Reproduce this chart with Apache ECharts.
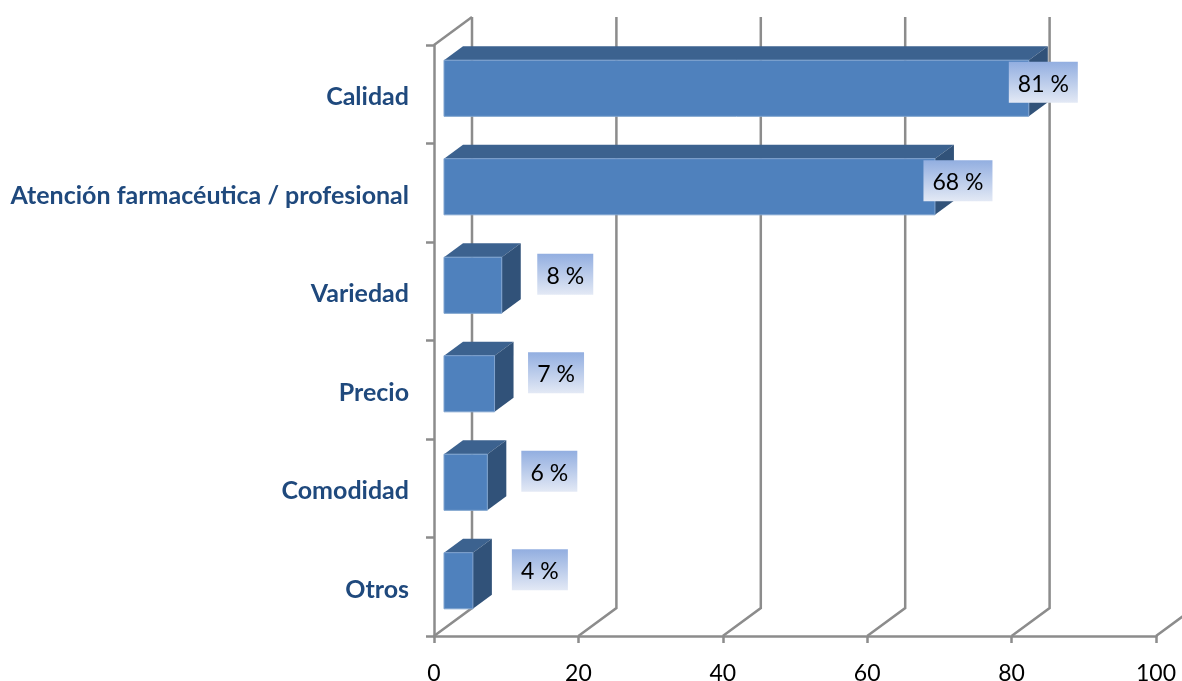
<!DOCTYPE html>
<html><head><meta charset="utf-8">
<style>html,body{margin:0;padding:0;background:#fff}#c{width:1182px;height:681px}</style>
<script src="https://cdn.jsdelivr.net/npm/echarts@6/dist/echarts.min.js"></script>
</head><body><div id="c"></div>
<script>
const categories = ['Calidad','Atención farmacéutica / profesional','Variedad','Precio','Comodidad','Otros'];
const values = [81,68,8,7,6,4];
const xTicks = [0,20,40,60,80,100];
const labelDx = [14.5,23,63.5,61.5,62,67];
const labelDy = [-12,-12,-17,-17,-17,-17];

const WALL = [38,-28], DEPTH = [19,-14], INSET = [10,-7];
const AXIS = '#8c8c8c', AXW = 2.5;
const chart = echarts.init(document.getElementById('c'), null, {renderer:'canvas'});

function wall(params, api){
  const v = api.value(0), cs = params.coordSys, bottom = cs.y + cs.height;
  const x = api.coord([v,0])[0];
  const pts = [[x,bottom],[x+WALL[0],bottom+WALL[1]],[x+WALL[0],cs.y+WALL[1]]];
  const children = [{type:'polyline',shape:{points:pts},style:{stroke:AXIS,lineWidth:AXW,fill:null}}];
  if (params.dataIndex === 0) {
    children.push({type:'line',shape:{x1:x,y1:cs.y,x2:x+WALL[0],y2:cs.y+WALL[1]},style:{stroke:AXIS,lineWidth:AXW}});
  }
  return {type:'group',children};
}
function bar(params, api){
  const v = api.value(0), i = api.value(1);
  const end = api.coord([v,i]), start = api.coord([0,i]);
  const h = api.size([0,1])[1]*0.57;
  const x0 = start[0]+INSET[0], x1 = end[0]+INSET[0];
  const yc = end[1]+INSET[1]+1, y0 = yc-h/2, y1 = yc+h/2;
  const dx = DEPTH[0], dy = DEPTH[1];
  return {type:'group',children:[
    {type:'polygon',shape:{points:[[x0,y0],[x1,y0],[x1+dx,y0+dy],[x0+dx,y0+dy]]},style:{fill:'#3c628f'}},
    {type:'polygon',shape:{points:[[x1,y0],[x1+dx,y0+dy],[x1+dx,y1+dy],[x1,y1]]},style:{fill:'#315279'}},
    {type:'rect',shape:{x:x0,y:y0,width:x1-x0,height:h},style:{fill:'#4f81bd',stroke:'#7fa3cf',lineWidth:1}}
  ]};
}
function label(params, api){
  const v = api.value(0), i = api.value(1), p = api.coord([v,i]);
  const cx = p[0]+INSET[0]+labelDx[i], cy = p[1]+labelDy[i];
  const w = v>=10 ? 69 : 56, h = 41;
  return {type:'group',children:[
    {type:'rect',shape:{x:cx-w/2,y:cy-h/2,width:w,height:h},style:{fill:new echarts.graphic.LinearGradient(0,0,0,1,[{offset:0,color:'#92aee0'},{offset:1,color:'#e3e9f5'}])}},
    {type:'text',style:{x:cx,y:cy+2,text:v+' %',fill:'#000',font:'23px Lato, "Open Sans", sans-serif',align:'center',verticalAlign:'middle'}}
  ]};
}
const barData = values.map((v,i)=>[v,i]);
chart.setOption({
  animation:false,
  grid:{left:434,right:26,top:45,bottom:45,containLabel:false,outerBoundsMode:'none'},
  xAxis:{type:'value',min:0,max:100,interval:20,
    axisLine:{show:true,lineStyle:{color:AXIS,width:AXW}},
    axisTick:{show:true,length:7,lineStyle:{color:AXIS,width:AXW}},
    splitLine:{show:false},
    axisLabel:{color:'#000',fontSize:23,fontFamily:'Lato',margin:26,showMaxLabel:true,hideOverlap:false}},
  yAxis:{type:'category',inverse:true,data:categories,
    axisLine:{show:true,lineStyle:{color:AXIS,width:AXW}},
    axisTick:{show:true,length:8,lineStyle:{color:AXIS,width:AXW}},
    splitLine:{show:false},
    axisLabel:{margin:25,interval:0,formatter:v=>'{a|'+v+'}',
      rich:{a:{color:'#1f497d',fontSize:25,fontWeight:'bold',fontFamily:'Lato',padding:[6,0,0,0]}}}},
  series:[
    {type:'custom',z:1,renderItem:wall,data:xTicks.map(t=>[t,0]),encode:{x:0,y:1},silent:true,clip:false},
    {type:'custom',z:2,renderItem:bar,data:barData,encode:{x:0,y:1},silent:true,clip:false},
    {type:'custom',z:3,renderItem:label,data:barData,encode:{x:0,y:1},silent:true,clip:false}
  ]
});
</script></body></html>
